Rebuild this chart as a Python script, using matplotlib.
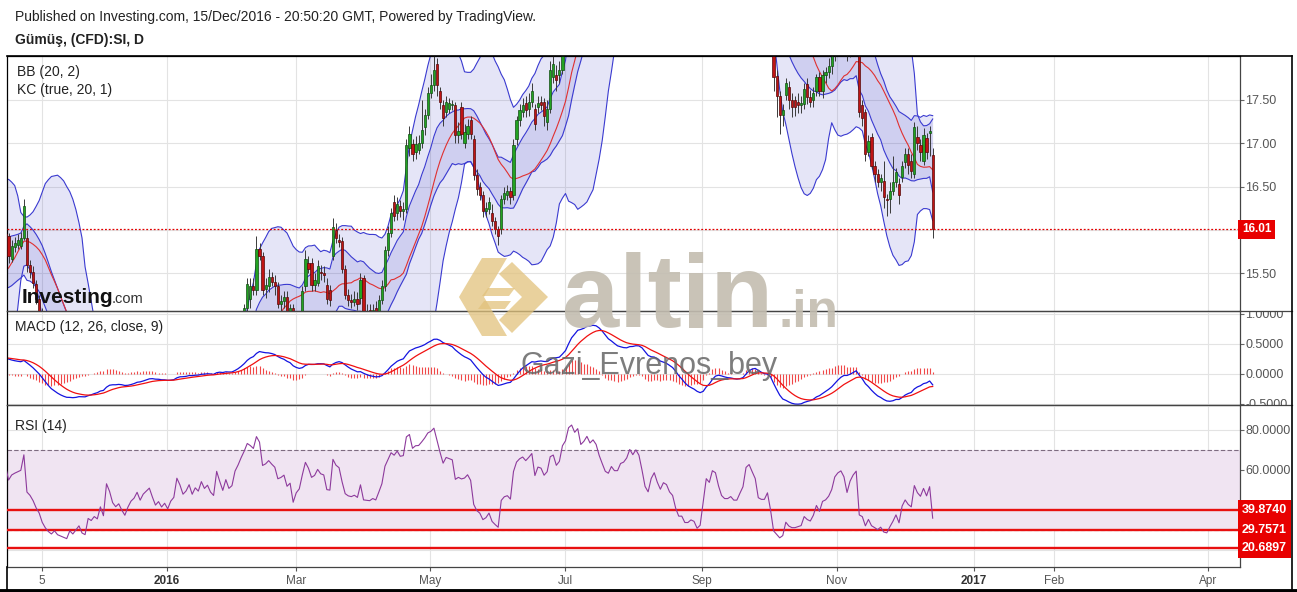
import numpy as np
import pandas as pd
import matplotlib
matplotlib.use('Agg')
import matplotlib.pyplot as plt
from matplotlib.lines import Line2D
from matplotlib.patches import Polygon
from matplotlib.transforms import blended_transform_factory, Bbox

plt.rcParams['font.family'] = ['Liberation Sans', 'DejaVu Sans']

# daily silver CFD bars, Aug 2015 .. 15 Dec 2016 (hidden parts estimated)
opens = [
    # Aug 2015
    14.70, 14.62, 14.58, 14.55, 14.60, 14.78, 15.25, 15.18, 15.40, 15.35, 15.20, 15.30, 15.15, 15.30, 15.50, 15.35, 14.80, 14.55, 14.40, 14.60, 14.62,
    # Sep 2015
    14.60, 14.58, 14.62, 14.55, 14.50, 14.60, 14.72, 14.58, 14.70, 14.60, 14.48, 14.40, 15.00, 15.10, 15.18, 15.05, 14.90, 14.80, 15.20, 15.15, 14.62, 14.70,
    # Oct 2015
    14.52, 14.62, 15.10, 15.55, 15.80, 15.85, 15.78, 15.80, 15.82, 15.78, 16.10, 15.98, 15.90, 15.84, 15.95,
    15.95, 15.93, 15.66, 15.80, 15.83, 15.81, 15.91, 15.91, 15.60, 15.52, 15.38, 15.20,
    # Nov 2015
    15.05, 14.75, 14.55, 14.40, 14.30, 14.35, 14.20, 14.15, 14.10, 14.05, 14.15, 14.05, 14.10, 14.15, 13.95, 13.90, 14.10, 14.05, 14.10,
    # Dec 2015
    14.05, 14.20, 14.02, 14.55, 14.40, 14.15, 14.05, 14.10, 13.95, 13.82, 13.95, 14.05, 14.10, 14.20, 14.05, 14.15, 14.20, 14.25, 14.10, 13.95, 14.00, 13.90, 13.95,
    # Jan 2016
    13.85, 13.95, 14.00, 14.30, 14.20, 14.05, 14.10, 14.20, 14.05, 14.15, 14.10, 14.25, 14.15, 14.20, 14.10, 14.05, 14.45, 14.30, 14.15, 14.35, 14.20,
    # Feb 2016
    14.25, 14.55, 14.70, 14.90,
    15.10, 15.20, 15.35, 15.31, 15.78, 15.70, 15.32, 15.35, 15.46, 15.40, 15.35, 15.15, 15.18, 15.23, 15.04, 15.10, 14.72,
    # Mar 2016 ..
    14.90, 14.98, 15.35, 15.62, 15.62, 15.37, 15.39, 15.52, 15.50, 15.36,
    15.31, 15.70, 16.00, 15.88, 15.87, 15.55, 15.25, 15.19, 15.17, 15.20,
    15.21, 15.44, 15.06, 15.08, 15.04, 15.10, 15.05, 15.19, 15.35, 15.77,
    15.97, 16.32, 16.20, 16.28, 16.22, 16.24, 16.94, 16.99, 16.90, 16.92,
    17.00, 17.19, 17.33, 17.58, 17.67, 17.91, 17.60, 17.44, 17.36, 17.40,
    17.44, 17.44, 17.09, 17.42, 17.00, 17.11, 17.27, 17.05, 16.63, 16.49,
    16.40, 16.22, 16.24, 16.20, 16.10, 16.01, 16.01, 16.36, 16.40, 16.45,
    16.40, 17.05, 17.27, 17.36, 17.46, 17.40, 17.48, 17.40, 17.42, 17.48,
    17.48, 17.25, 17.40, 17.77, 17.79, 17.79, 17.85, 18.45,
    # Jul 2016
    18.70, 19.60, 19.85, 19.70, 20.00, 19.65, 19.85, 20.20, 20.05, 20.25, 20.15, 19.90, 19.70, 19.50, 19.45, 19.70, 19.60, 19.60, 19.85, 19.90, 20.05,
    # Aug 2016
    20.40, 20.30, 20.50, 20.40, 20.10, 19.70, 19.55, 19.95, 20.15, 19.90, 19.70, 19.90, 19.85, 19.65, 19.55, 19.15, 18.85, 18.85, 18.60, 18.60, 18.65, 18.60, 18.35,
    # Sep 2016
    18.40, 18.85, 19.50, 19.40, 19.80, 19.75, 19.40, 19.10, 19.00, 19.00, 19.05, 18.95, 18.95, 19.10, 19.25, 19.80, 19.90, 19.75, 19.60, 19.10, 19.05, 19.05,
    # Oct - Dec 2016
    19.20, 18.70, 17.78, 17.55, 17.33, 17.56, 17.65, 17.50, 17.50, 17.48,
    17.44, 17.45, 17.68, 17.53, 17.50, 17.60, 17.76, 17.60, 17.79, 17.82,
    17.89, 18.02, 18.30, 18.40, 18.45, 18.35, 18.05, 18.30, 18.45, 18.55,
    17.44, 17.36, 16.90, 17.07, 16.74, 16.65, 16.55, 16.57, 16.36, 16.36,
    16.45, 16.55, 16.53, 16.61, 16.78, 16.88, 16.80, 16.65, 17.07, 16.98,
    16.80, 17.06, 17.12, 16.87,
]
highs = [
    14.80, 14.70, 14.68, 14.72, 14.90, 15.35, 15.32, 15.50, 15.52, 15.40, 15.38, 15.35, 15.38, 15.62, 15.58, 15.40, 14.95, 14.65, 14.72, 14.75, 14.72,
    14.70, 14.72, 14.70, 14.62, 14.68, 14.80, 14.78, 14.78, 14.75, 14.65, 14.55, 15.10, 15.30, 15.35, 15.25, 15.10, 14.98, 15.30, 15.28, 15.18, 14.80, 14.75,
    14.75, 15.20, 15.65, 15.90, 15.95, 15.92, 15.95, 15.92, 15.88, 16.20, 16.15, 16.05, 15.98, 16.02, 15.98,
    16.05, 15.97, 15.88, 15.92, 15.95, 15.98, 16.36, 16.00, 15.65, 15.58, 15.42, 15.25,
    15.10, 14.80, 14.60, 14.45, 14.42, 14.40, 14.25, 14.20, 14.15, 14.20, 14.18, 14.15, 14.20, 14.20, 14.00, 14.15, 14.15, 14.15, 14.15,
    14.28, 14.25, 14.62, 14.65, 14.45, 14.22, 14.18, 14.15, 14.00, 14.02, 14.12, 14.18, 14.28, 14.25, 14.20, 14.28, 14.32, 14.30, 14.15, 14.08, 14.05, 14.02, 14.00,
    14.02, 14.08, 14.38, 14.35, 14.25, 14.18, 14.28, 14.22, 14.22, 14.20, 14.32, 14.28, 14.28, 14.25, 14.15, 14.52, 14.50, 14.35, 14.42, 14.40, 14.32,
    14.60, 14.78, 14.98, 15.15,
    15.45, 15.45, 15.45, 15.93, 15.85, 15.75, 15.45, 15.55, 15.52, 15.48, 15.40, 15.25, 15.30, 15.30, 15.15, 15.15, 14.95,
    15.05, 15.35, 15.77, 15.70, 15.68, 15.50, 15.65, 15.60, 15.58, 15.45,
    15.36, 16.14, 16.08, 15.95, 15.92, 15.60, 15.32, 15.26, 15.30, 15.28,
    15.50, 15.48, 15.15, 15.14, 15.15, 15.18, 15.25, 15.42, 15.82, 16.05,
    16.25, 16.40, 16.38, 16.35, 16.32, 17.05, 17.20, 17.05, 17.08, 17.10,
    17.50, 17.40, 17.65, 17.80, 18.05, 17.98, 17.65, 17.50, 17.55, 17.52,
    17.50, 17.48, 17.25, 17.48, 17.22, 17.28, 17.32, 17.10, 16.70, 16.55,
    16.45, 16.32, 16.38, 16.30, 16.15, 16.05, 16.40, 16.50, 16.52, 16.50,
    17.05, 17.32, 17.45, 17.52, 17.55, 17.58, 17.70, 17.45, 17.55, 17.55,
    17.52, 17.50, 17.95, 18.10, 17.90, 17.95, 18.60, 18.80,
    19.80, 20.10, 19.95, 20.20, 20.05, 20.00, 20.30, 20.25, 20.35, 20.35, 20.20, 19.95, 19.75, 19.60, 19.80, 19.80, 19.72, 19.90, 20.05, 20.15, 20.48,
    20.50, 20.70, 20.60, 20.45, 20.25, 19.78, 20.05, 20.25, 20.20, 19.95, 20.00, 20.05, 19.90, 19.80, 19.60, 19.20, 19.00, 18.95, 18.80, 18.80, 18.72, 18.65, 18.55,
    18.95, 19.65, 19.60, 19.90, 19.95, 19.80, 19.45, 19.15, 19.15, 19.15, 19.10, 19.05, 19.20, 19.35, 19.95, 20.05, 19.95, 19.80, 19.65, 19.20, 19.15, 19.30,
    19.25, 18.75, 17.85, 17.60, 17.45, 17.75, 17.72, 17.58, 17.55, 17.58,
    17.55, 17.70, 17.75, 17.62, 17.65, 17.80, 17.82, 17.85, 17.88, 17.98,
    18.10, 18.40, 18.50, 18.55, 18.55, 18.38, 18.35, 18.90, 18.75, 18.65,
    17.50, 17.40, 17.10, 17.12, 16.80, 16.70, 16.65, 16.80, 16.42, 16.55,
    16.85, 16.72, 16.60, 16.80, 16.95, 16.95, 16.88, 17.25, 17.20, 17.05,
    17.18, 17.12, 17.20, 16.95,
]
lows = [
    14.55, 14.48, 14.45, 14.48, 14.55, 14.75, 15.10, 15.15, 15.25, 15.15, 15.15, 15.10, 15.10, 15.25, 15.30, 14.70, 14.45, 14.30, 14.35, 14.50, 14.50,
    14.45, 14.50, 14.48, 14.40, 14.45, 14.55, 14.52, 14.52, 14.55, 14.42, 14.30, 14.38, 14.92, 15.00, 14.98, 14.85, 14.72, 14.75, 15.05, 14.55, 14.55, 14.45,
    14.45, 14.55, 15.05, 15.50, 15.70, 15.70, 15.65, 15.70, 15.65, 15.72, 15.90, 15.82, 15.75, 15.80, 15.82,
    15.85, 15.62, 15.63, 15.75, 15.78, 15.78, 15.88, 15.52, 15.45, 15.33, 15.15, 14.98,
    14.70, 14.50, 14.35, 14.25, 14.25, 14.15, 14.10, 14.05, 14.00, 14.00, 14.00, 14.00, 14.05, 13.90, 13.82, 13.85, 14.00, 14.00, 14.00,
    14.02, 13.95, 13.98, 14.32, 14.10, 13.98, 14.00, 13.88, 13.75, 13.78, 13.90, 14.00, 14.05, 14.00, 14.00, 14.10, 14.15, 14.05, 13.88, 13.90, 13.85, 13.85, 13.78,
    13.78, 13.88, 13.95, 14.12, 13.98, 13.98, 14.05, 14.00, 14.00, 14.02, 14.05, 14.10, 14.10, 14.05, 13.98, 14.02, 14.25, 14.10, 14.10, 14.15, 14.12,
    14.20, 14.50, 14.65, 14.70,
    15.02, 15.10, 15.25, 15.25, 15.65, 15.25, 15.22, 15.28, 15.35, 15.25, 15.10, 15.05, 15.10, 14.95, 14.90, 14.65, 14.65,
    14.80, 14.95, 15.30, 15.50, 15.30, 15.30, 15.35, 15.42, 15.40, 15.15,
    15.12, 15.65, 15.85, 15.80, 15.50, 15.20, 15.12, 15.10, 15.12, 15.08,
    15.15, 15.02, 14.98, 14.96, 14.95, 14.98, 15.00, 15.15, 15.30, 15.70,
    15.92, 16.10, 16.12, 16.15, 16.12, 16.20, 16.85, 16.80, 16.82, 16.88,
    16.95, 17.10, 17.28, 17.52, 17.60, 17.55, 17.40, 17.20, 17.30, 17.35,
    17.38, 17.00, 17.00, 17.05, 16.95, 17.05, 17.05, 16.58, 16.40, 16.35,
    16.15, 16.15, 16.18, 16.05, 15.95, 15.83, 15.95, 16.30, 16.35, 16.30,
    16.35, 16.98, 17.20, 17.30, 17.30, 17.32, 17.42, 17.15, 17.35, 17.38,
    17.20, 17.15, 17.35, 17.70, 17.60, 17.70, 17.80, 18.35,
    18.65, 19.50, 19.50, 19.55, 19.50, 19.45, 19.80, 19.90, 19.95, 19.95, 19.80, 19.60, 19.40, 19.30, 19.40, 19.50, 19.45, 19.55, 19.75, 19.80, 19.95,
    20.15, 20.20, 20.25, 20.00, 19.60, 19.45, 19.50, 19.85, 19.80, 19.60, 19.65, 19.75, 19.55, 19.45, 19.05, 18.75, 18.70, 18.50, 18.45, 18.50, 18.50, 18.25, 18.20,
    18.30, 18.80, 19.30, 19.35, 19.65, 19.30, 19.00, 18.70, 18.85, 18.90, 18.85, 18.85, 18.90, 19.05, 19.15, 19.75, 19.65, 19.50, 19.05, 18.95, 18.95, 19.00,
    18.60, 17.60, 17.30, 17.11, 17.20, 17.50, 17.40, 17.30, 17.32, 17.35,
    17.35, 17.40, 17.45, 17.42, 17.42, 17.55, 17.55, 17.52, 17.70, 17.75,
    17.80, 17.95, 18.20, 18.25, 18.20, 17.95, 18.00, 18.20, 18.30, 17.30,
    17.20, 16.80, 16.85, 16.70, 16.55, 16.50, 16.45, 16.25, 16.16, 16.20,
    16.40, 16.50, 16.30, 16.55, 16.72, 16.65, 16.60, 16.60, 16.92, 16.80,
    16.75, 16.82, 16.85, 15.91,
]
closes = [
    14.62, 14.58, 14.55, 14.60, 14.78, 15.25, 15.18, 15.40, 15.35, 15.20, 15.30, 15.15, 15.30, 15.50, 15.35, 14.80, 14.55, 14.40, 14.60, 14.62, 14.60,
    14.58, 14.62, 14.55, 14.50, 14.60, 14.72, 14.58, 14.70, 14.60, 14.48, 14.40, 15.00, 15.10, 15.18, 15.05, 14.90, 14.80, 15.20, 15.15, 14.62, 14.70, 14.52,
    14.62, 15.10, 15.55, 15.80, 15.85, 15.78, 15.80, 15.82, 15.78, 16.10, 15.98, 15.90, 15.84, 15.95, 15.88,
    15.93, 15.70, 15.81, 15.85, 15.88, 15.91, 16.28, 15.60, 15.52, 15.39, 15.20, 15.05,
    14.75, 14.55, 14.40, 14.30, 14.35, 14.20, 14.15, 14.10, 14.05, 14.15, 14.05, 14.10, 14.15, 13.95, 13.90, 14.10, 14.05, 14.10, 14.05,
    14.20, 14.02, 14.55, 14.40, 14.15, 14.05, 14.10, 13.95, 13.82, 13.95, 14.05, 14.10, 14.20, 14.05, 14.15, 14.20, 14.25, 14.10, 13.95, 14.00, 13.90, 13.95, 13.85,
    13.95, 14.00, 14.30, 14.20, 14.05, 14.10, 14.20, 14.05, 14.15, 14.10, 14.25, 14.15, 14.20, 14.10, 14.05, 14.45, 14.30, 14.15, 14.35, 14.20, 14.25,
    14.55, 14.70, 14.90, 15.10,
    15.38, 15.35, 15.31, 15.78, 15.70, 15.31, 15.36, 15.46, 15.40, 15.35, 15.15, 15.18, 15.23, 15.04, 15.10, 14.72, 14.90,
    14.98, 15.30, 15.66, 15.55, 15.37, 15.42, 15.58, 15.50, 15.48, 15.20,
    15.19, 16.03, 15.91, 15.86, 15.55, 15.25, 15.19, 15.17, 15.20, 15.15,
    15.42, 15.06, 15.05, 15.04, 15.08, 15.05, 15.19, 15.35, 15.77, 15.97,
    16.20, 16.16, 16.30, 16.22, 16.24, 16.98, 17.11, 16.88, 16.99, 17.00,
    17.15, 17.33, 17.58, 17.67, 17.85, 17.67, 17.48, 17.29, 17.48, 17.46,
    17.44, 17.09, 17.14, 17.11, 17.13, 17.20, 17.11, 16.63, 16.47, 16.40,
    16.22, 16.25, 16.32, 16.10, 16.01, 15.93, 16.36, 16.43, 16.45, 16.38,
    16.98, 17.27, 17.38, 17.44, 17.38, 17.48, 17.60, 17.22, 17.46, 17.44,
    17.31, 17.40, 17.85, 17.91, 17.73, 17.85, 18.45, 18.70,
    19.60, 19.85, 19.70, 20.00, 19.65, 19.85, 20.20, 20.05, 20.25, 20.15, 19.90, 19.70, 19.50, 19.45, 19.70, 19.60, 19.60, 19.85, 19.90, 20.05, 20.40,
    20.30, 20.50, 20.40, 20.10, 19.70, 19.55, 19.95, 20.15, 19.90, 19.70, 19.90, 19.85, 19.65, 19.55, 19.15, 18.85, 18.85, 18.60, 18.60, 18.65, 18.60, 18.35, 18.40,
    18.85, 19.50, 19.40, 19.80, 19.75, 19.40, 19.10, 19.00, 19.00, 19.05, 18.95, 18.95, 19.10, 19.25, 19.80, 19.90, 19.75, 19.60, 19.10, 19.05, 19.05, 19.20,
    18.70, 17.76, 17.55, 17.33, 17.38, 17.69, 17.50, 17.42, 17.42, 17.44,
    17.46, 17.63, 17.53, 17.48, 17.58, 17.76, 17.60, 17.79, 17.82, 17.89,
    18.02, 18.30, 18.40, 18.45, 18.35, 18.05, 18.30, 18.45, 18.55, 17.36,
    17.29, 16.88, 17.03, 16.74, 16.65, 16.55, 16.60, 16.38, 16.34, 16.45,
    16.55, 16.67, 16.40, 16.74, 16.88, 16.75, 16.68, 17.19, 17.00, 16.90,
    17.10, 16.90, 17.14, 16.01,
]
assert len(opens) == len(highs) == len(lows) == len(closes)

last_price = 16.01
rsi_levels = [39.8740, 29.7571, 20.6897]
tick_labels = ['5', '2016', 'Mar', 'May', 'Jul', 'Sep', 'Nov', '2017', 'Feb', 'Apr']

# ---- layout (pixels of the 1297x592 picture) ----
W, H = 1297, 592
tick_px = [42, 167, 296, 430, 565, 702, 837, 974, 1054, 1208]
LAST_PX, BAR_PX = 932.7, 3.06

n = len(closes)
idx = np.arange(n)
o, h, l, c = (np.array(v) for v in (opens, highs, lows, closes))


def px2x(px):
    return (n - 1) + (px - LAST_PX) / BAR_PX


def box(x0, y0, x1, y1):
    return [x0 / W, 1 - y1 / H, (x1 - x0) / W, (y1 - y0) / H]


def ftext(px, py, s, **kw):
    return fig.text(px / W, 1 - py / H, s, **kw)


# ---- indicators ----
cs, hs, ls = pd.Series(c), pd.Series(h), pd.Series(l)
bb_mid = cs.rolling(20).mean()
bb_dev = cs.rolling(20).std(ddof=0)
bb_up, bb_lo = bb_mid + 2 * bb_dev, bb_mid - 2 * bb_dev
kc_mid = cs.ewm(span=20, adjust=False).mean()
tr = pd.concat([hs - ls, (hs - cs.shift()).abs(), (ls - cs.shift()).abs()], axis=1).max(axis=1)
kc_rng = tr.ewm(span=20, adjust=False).mean()
kc_up, kc_lo = kc_mid + kc_rng, kc_mid - kc_rng

macd = cs.ewm(span=12, adjust=False).mean() - cs.ewm(span=26, adjust=False).mean()
signal = macd.ewm(span=9, adjust=False).mean()
hist = macd - signal

d = cs.diff()
up = d.clip(lower=0).ewm(alpha=1 / 14, adjust=False).mean()
dn = (-d.clip(upper=0)).ewm(alpha=1 / 14, adjust=False).mean()
rsi = 100 - 100 / (1 + up / dn)

# ---- figure ----
fig = plt.figure(figsize=(W / 100, H / 100), dpi=100)
fig.patch.set_facecolor('white')
ax_p = fig.add_axes(box(7, 56, 1240, 311))
ax_m = fig.add_axes(box(7, 311, 1240, 405))
ax_r = fig.add_axes(box(7, 405, 1240, 567))

band = '#3a3ad0'
ax_p.fill_between(idx, bb_lo, bb_up, color='#3030c0', alpha=0.12, lw=0)
ax_p.fill_between(idx, kc_lo, kc_up, color='#3030c0', alpha=0.12, lw=0)
for s in (bb_up, bb_lo, kc_up, kc_lo):
    ax_p.plot(idx, s, color=band, lw=0.8)
ax_p.plot(idx, bb_mid, color='#e03030', lw=0.8)

rise = c >= o
bottom = np.minimum(o, c)
height = np.maximum(np.abs(c - o), 0.012)
ax_p.vlines(idx, l, h, color='#3a3a3a', lw=0.7, zorder=3)
ax_p.bar(idx[rise], height[rise], bottom=bottom[rise], width=0.72, color='#22a322',
         edgecolor='#124d12', lw=0.5, zorder=4)
ax_p.bar(idx[~rise], height[~rise], bottom=bottom[~rise], width=0.72, color='#c01414',
         edgecolor='#550808', lw=0.5, zorder=4)
ax_p.axhline(last_price, color='#e00000', lw=0.9, ls=(0, (1.5, 1.5)), zorder=5)
ax_p.set_ylim(15.065, 18.007)
ax_p.set_yticks([15.5, 16.0, 16.5, 17.0, 17.5])
ax_p.set_yticklabels(['15.50', '', '16.50', '17.00', '17.50'])

ax_m.vlines(idx, 0, hist, color='#f04848', lw=0.8)
ax_m.plot(idx, macd, color='#1414e0', lw=0.9)
ax_m.plot(idx, signal, color='#f01010', lw=0.9)
ax_m.set_ylim(-0.517, 1.05)
ax_m.set_yticks([-0.5, 0.0, 0.5, 1.0])
ax_m.set_yticklabels(['-0.5000', '0.0000', '0.5000', '1.0000'])

ax_r.axhspan(30, 70, color='#f0e4f2', lw=0)
for lv in (30, 70):
    ax_r.axhline(lv, color='#7d6b80', lw=0.8, ls=(0, (4, 2)))
for lv in rsi_levels:
    ax_r.axhline(lv, color='#e81010', lw=1.7, zorder=4)
ax_r.plot(idx, rsi, color='#8d3a9c', lw=0.8, zorder=5)
ax_r.set_ylim(11.3, 92.5)
ax_r.set_yticks([20, 40, 60, 80])
ax_r.set_yticklabels(['', '', '60.0000', '80.0000'])

xt = [px2x(p) for p in tick_px]
for ax in (ax_p, ax_m, ax_r):
    ax.set_xlim(px2x(7), px2x(1240))
    ax.set_xticks(xt)
    ax.grid(True, color='#e3e3e3', lw=0.8)
    ax.set_axisbelow(True)
    ax.yaxis.tick_right()
    ax.tick_params(axis='y', length=3, color='#666666', labelcolor='#555555', labelsize=9, pad=1)
    ax.tick_params(axis='x', length=0, labelbottom=False)
    for side in ('top', 'bottom', 'left', 'right'):
        ax.spines[side].set_color('#444444')
        ax.spines[side].set_linewidth(0.9)
    ax.spines['left'].set_color('black')
    ax.set_facecolor('none')
ax_p.spines['top'].set_color('black')
ax_r.tick_params(axis='x', length=3, color='#555555', labelbottom=True, labelcolor='#555555',
                 labelsize=8.5, pad=3)
ax_r.set_xticklabels(tick_labels)
for t in ax_r.get_xticklabels():
    if t.get_text() in ('2016', '2017'):
        t.set_fontweight('bold')
        t.set_color('#333333')

# the top MACD label is cut by the pane edge
macd_clip = Bbox([[1240, H - 405], [W, H - 311]])
for tk in ax_m.yaxis.get_major_ticks():
    tk.label2.set_clip_box(macd_clip)
    tk.label2.set_clip_on(True)

# value boxes on the right axis
for ax, val, txt, fs in [(ax_p, last_price, '16.01', 8.5)] + [(ax_r, v, f'{v:.4f}', 9) for v in rsi_levels]:
    tf = blended_transform_factory(ax.transAxes, ax.transData)
    ax.text(1.0015, val, txt, transform=tf, ha='left', va='center', color='white',
            fontsize=fs, fontweight='bold', clip_on=False, zorder=10,
            bbox=dict(boxstyle='square,pad=0.3', fc='#e80000', ec='none'))

# frame lines
for (x0, y0, x1, y1, col, lw) in [(7, 56, 1292, 56, 'black', 1.2), (1240, 311, 1292, 311, '#444444', 0.9),
                                   (1240, 405, 1292, 405, '#444444', 0.9), (1292, 56, 1292, 590, 'black', 1.2),
                                   (7, 567, 7, 590, 'black', 1.2), (0, 590.5, W, 590.5, 'black', 3.5)]:
    fig.add_artist(Line2D([x0 / W, x1 / W], [1 - y0 / H, 1 - y1 / H], color=col, lw=lw))

# texts
ftext(15, 17, 'Published on Investing.com, 15/Dec/2016 - 20:50:20 GMT, Powered by TradingView.',
      fontsize=10, color='#222222', va='center')
ftext(15, 40, 'Gümüş, (CFD):SI, D', fontsize=10, fontweight='bold', color='#222222', va='center')
ftext(17, 72, 'BB (20, 2)', fontsize=10, color='#222222', va='center')
ftext(17, 90, 'KC (true, 20, 1)', fontsize=10, color='#222222', va='center')
ftext(15, 327, 'MACD (12, 26, close, 9)', fontsize=10, color='#222222', va='center')
ftext(15, 426, 'RSI (14)', fontsize=10, color='#222222', va='center')

# watermarks
ftext(22, 303, 'Investing', fontsize=15, fontweight='bold', color='#111111', va='baseline', zorder=6)
ftext(112, 303, '.com', fontsize=10.5, color='#333333', va='baseline', zorder=6)
gold = '#e2c27c'
for pts in ([(482, 258), (507, 258), (484, 297), (507, 336), (482, 336), (459, 297)],
            [(512, 262), (548, 297), (512, 333), (499, 320), (522, 297), (499, 274)],
            [(488, 288), (515, 288), (509, 296), (482, 296)],
            [(484, 301), (511, 301), (505, 309), (478, 309)]):
    fig.add_artist(Polygon([(x / W, 1 - y / H) for x, y in pts], closed=True, fc=gold,
                           ec='none', alpha=0.75, transform=fig.transFigure, zorder=6))
ftext(562, 327, 'altin', fontsize=74, fontweight='bold', color='#c3bdb0', alpha=0.9,
      va='baseline', zorder=6)
ftext(779, 327, '.in', fontsize=37, fontweight='bold', color='#c3bdb0', alpha=0.9,
      va='baseline', zorder=6)
ftext(520, 374, 'Gazi_Evrenos_bey', fontsize=22, color='#666666', alpha=0.85,
      va='baseline', zorder=6)

fig.savefig('out.png', dpi=100)
